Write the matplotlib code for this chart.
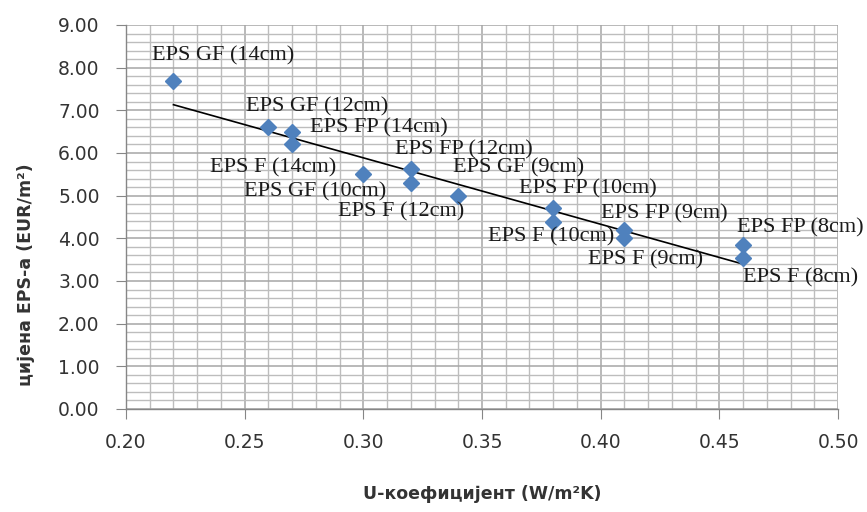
import numpy as np
import matplotlib
matplotlib.use("Agg")
import matplotlib.pyplot as plt
from matplotlib.ticker import MultipleLocator, FormatStrFormatter

# U-coefficient (W/m2K) and EPS price (EUR/m2)
u_coef = [0.22, 0.26, 0.27, 0.27, 0.30, 0.32, 0.32, 0.34, 0.38, 0.38, 0.41, 0.41, 0.46, 0.46]
price = [7.68, 6.60, 6.50, 6.20, 5.50, 5.62, 5.30, 5.00, 4.71, 4.38, 4.20, 4.00, 3.84, 3.54]
names = ["EPS GF (14cm)", "EPS GF (12cm)", "EPS FP (14cm)", "EPS F (14cm)",
         "EPS GF (10cm)", "EPS FP (12cm)", "EPS F (12cm)", "EPS GF (9cm)",
         "EPS FP (10cm)", "EPS F (10cm)", "EPS FP (9cm)", "EPS F (9cm)",
         "EPS FP (8cm)", "EPS F (8cm)"]
# label offsets from each point, in pixels (x right, y up)
offsets = [(50, 25), (49, 21), (87, 4), (-19, -23), (-48, -18), (53, 19), (-10, -29),
           (60, 28), (35, 19), (-2, -15), (40, 16), (21, -22), (57, 17), (57, -20)]

fig = plt.figure(figsize=(8.67, 5.12), dpi=100)
ax = fig.add_axes([0.1453, 0.2012, 0.8213, 0.75])

ax.set_xlim(0.20, 0.50)
ax.set_ylim(0, 9)
ax.xaxis.set_major_locator(MultipleLocator(0.05))
ax.xaxis.set_minor_locator(MultipleLocator(0.01))
ax.yaxis.set_major_locator(MultipleLocator(1))
ax.yaxis.set_minor_locator(MultipleLocator(0.2))
ax.xaxis.set_major_formatter(FormatStrFormatter("%.2f"))
ax.yaxis.set_major_formatter(FormatStrFormatter("%.2f"))

ax.grid(which="major", color="#a6a6a6", linewidth=1.1)
ax.grid(which="minor", color="#bdbdbd", linewidth=1.0)
ax.set_axisbelow(True)

for s in ["top", "right"]:
    ax.spines[s].set_visible(False)
for s in ["left", "bottom"]:
    ax.spines[s].set_color("#868686")
    ax.spines[s].set_linewidth(1.0)

ax.tick_params(which="major", length=7, color="#868686", labelsize=13.5,
               labelcolor="#333333")
ax.tick_params(axis="x", which="major", pad=10)
ax.tick_params(axis="y", which="major", pad=12)
ax.tick_params(which="minor", length=0)

# linear trend line
k, b = np.polyfit(u_coef, price, 1)
xs = np.array([min(u_coef), max(u_coef)])
ax.plot(xs, k * xs + b, color="black", linewidth=1.2, zorder=3)

ax.plot(u_coef, price, linestyle="none", marker="D", markersize=8.5,
        color="#4f81bd", markeredgecolor="#4f81bd", zorder=4)

for xv, yv, nm, off in zip(u_coef, price, names, offsets):
    ax.annotate(nm, (xv, yv), xytext=off, textcoords="offset pixels",
                ha="center", va="center", fontsize=16, family="Liberation Serif",
                color="#1a1a1a", zorder=5)

ax.set_xlabel("U-коефицијент (W/m²K)", fontsize=12.5, fontweight="bold",
              color="#333333", labelpad=24)
ax.set_ylabel("цијена EPS-а (EUR/m²)", fontsize=12.5, fontweight="bold",
              color="#333333")
ax.yaxis.set_label_coords(-0.128, 0.35)

fig.savefig("out.png", dpi=100)
